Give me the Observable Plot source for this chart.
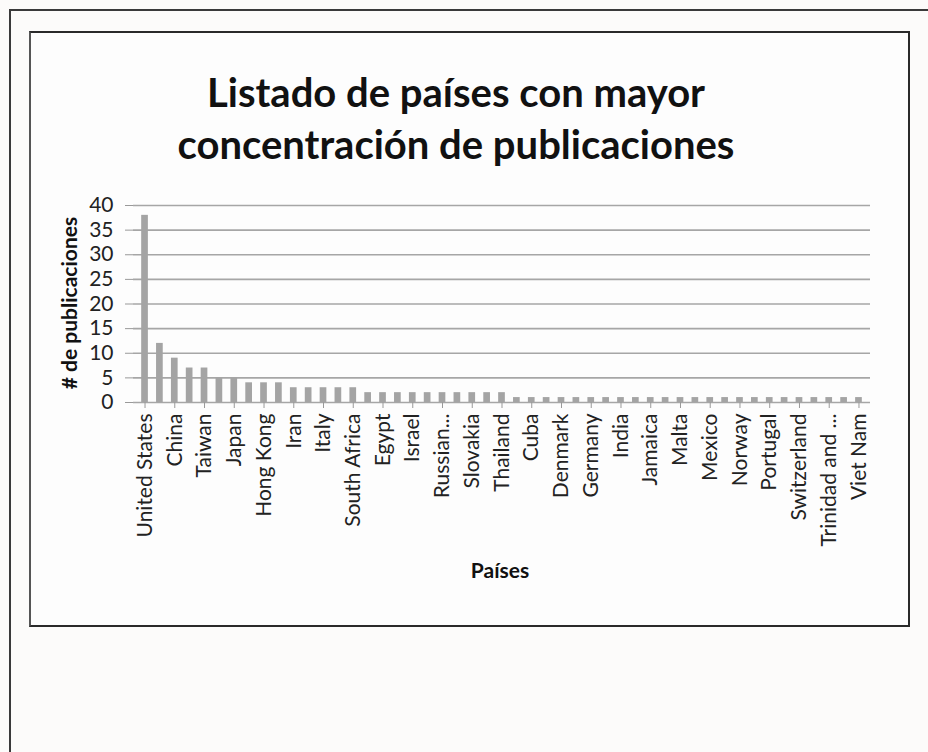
<!DOCTYPE html>
<html>
<head>
<meta charset="utf-8">
<script src="https://cdn.jsdelivr.net/npm/d3@7"></script>
<script src="https://cdn.jsdelivr.net/npm/@observablehq/plot@0.6"></script>
<style>
  html, body { margin: 0; padding: 0; background: #fcfcfb; overflow: hidden; width: 928px; height: 752px; }
  #page { position: relative; width: 928px; height: 752px; overflow: hidden; background: #fcfbfa; font-family: Lato, "Open Sans", sans-serif; }
  #outer { position: absolute; left: 9px; top: 9px; width: 919px; height: 743px; border-top: 2px solid #3a3a3a; border-left: 2px solid #3a3a3a; box-sizing: border-box; }
  #box { position: absolute; left: 29px; top: 31px; width: 877px; height: 592px; border: 2px solid #2a2a2a; border-left-color: #555; background: #fdfdfd; }
  #title { position: absolute; left: 0; width: 912px; top: 66px; text-align: center; font-weight: 700; font-size: 40px; line-height: 52px; color: #111; }
  #ylabel { position: absolute; left: 68px; top: 303px; transform: translate(-50%, -50%) rotate(-90deg); white-space: nowrap; font-weight: 700; font-size: 21px; color: #111; }
  #xlabel { position: absolute; left: 500px; top: 557px; transform: translateX(-50%); font-weight: 700; font-size: 21px; color: #111; }
  #chart { position: absolute; left: 0; top: 180px; }
</style>
</head>
<body>
<div id="page">
  <div id="outer"></div>
  <div id="box"></div>
  <div id="title">Listado de países con mayor<br>concentración de publicaciones</div>
  <div id="ylabel"># de publicaciones</div>
  <div id="xlabel">Países</div>
  <div id="chart"></div>
</div>
<script>
const countries = [
  "United States", "United Kingdom", "China", "Spain", "Taiwan",
  "Australia", "Japan", "Canada", "Hong Kong", "Korea",
  "Iran", "Ireland", "Italy", "Singapore", "South Africa",
  "Brazil", "Egypt", "France", "Israel", "Netherlands",
  "Russian...", "Saudi Arabia", "Slovakia", "Sweden", "Thailand",
  "Chile", "Cuba", "Czech Republic", "Denmark", "Finland",
  "Germany", "Greece", "India", "Indonesia", "Jamaica",
  "Jordan", "Malta", "Mauritius", "Mexico", "New Zealand",
  "Norway", "Poland", "Portugal", "Serbia", "Switzerland",
  "Tanzania", "Trinidad and ...", "Turkey", "Viet Nam"
];
const publications = [
  38, 12, 9, 7, 7,
  5, 5, 4, 4, 4,
  3, 3, 3, 3, 3,
  2, 2, 2, 2, 2,
  2, 2, 2, 2, 2,
  1, 1, 1, 1, 1,
  1, 1, 1, 1, 1,
  1, 1, 1, 1, 1,
  1, 1, 1, 1, 1,
  1, 1, 1, 1
];
const yTicks = [0, 5, 10, 15, 20, 25, 30, 35, 40];
const shownLabels = countries.filter((d, i) => i % 2 === 0);

const data = countries.map((c, i) => ({country: c, value: publications[i]}));

const chart = Plot.plot({
  width: 928,
  height: 420,
  marginLeft: 133,
  marginRight: 58,
  marginTop: 25,
  marginBottom: 198,
  style: {fontFamily: "Lato, 'Open Sans', sans-serif", fontSize: "21px", background: "transparent", color: "#222"},
  x: {type: "band", domain: countries, padding: 0.55, label: null},
  y: {domain: [0, 40], label: null},
  marks: [
    Plot.gridY(yTicks, {stroke: "#a6a6a6", strokeOpacity: 1, strokeWidth: 1.6}),
    Plot.barY(data, {x: "country", y: "value", fill: "#a4a4a4"}),
    Plot.axisY(yTicks, {tickSize: 8, tickPadding: 12, line: true, stroke: "#999", fill: "#222", fontSize: 21, label: null}),
    Plot.axisX(shownLabels, {tickRotate: -90, tickSize: 6, tickPadding: 5, line: true, stroke: "#999", fill: "#222", fontSize: 21, label: null})
  ]
});
document.getElementById("chart").appendChild(chart);
</script>
</body>
</html>
